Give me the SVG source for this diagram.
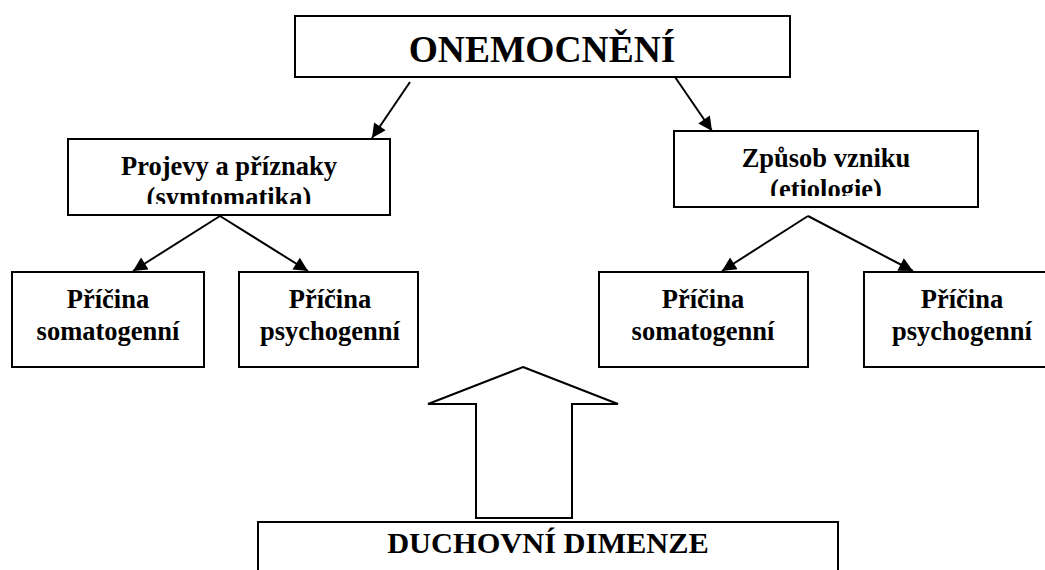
<svg xmlns="http://www.w3.org/2000/svg" width="1045" height="570" viewBox="0 0 1045 570">
<style>
.box{fill:#fff;stroke:#000;stroke-width:2}
.t{font-family:'Liberation Serif','DejaVu Serif',serif;font-weight:700;fill:#000;text-anchor:middle}
.s{font-size:26.5px}
.conn line{stroke:#000;stroke-width:2}
</style>
<defs>
<marker id="ah" viewBox="0 0 10 10" refX="10" refY="5" markerWidth="8" markerHeight="7" markerUnits="strokeWidth" orient="auto">
<path d="M0,0 L10,5 L0,10 z" fill="#000"/>
</marker>
<clipPath id="c1"><rect x="68" y="139" width="322" height="65"/></clipPath>
<clipPath id="c2"><rect x="674" y="131" width="304" height="65"/></clipPath>
</defs>
<rect width="1045" height="570" fill="#fff"/>
<g id="onemocneni">
<rect class="box" x="295" y="16" width="495" height="61"/>
<text class="t" x="542" y="62" font-size="37.5">ONEMOCNĚNÍ</text>
</g>
<g id="projevy">
<rect class="box" x="68" y="139" width="322" height="76"/>
<g clip-path="url(#c1)">
<text class="t s" x="229" y="175">Projevy a příznaky</text>
<text class="t s" x="229" y="206">(symtomatika)</text>
</g>
</g>
<g id="zpusob">
<rect class="box" x="674" y="131" width="304" height="76"/>
<g clip-path="url(#c2)">
<text class="t s" x="826" y="167">Způsob vzniku</text>
<text class="t s" x="826" y="198">(etiologie)</text>
</g>
</g>
<g id="l-somato">
<rect class="box" x="12" y="272" width="192" height="95"/>
<text class="t s" x="108" y="308">Příčina</text>
<text class="t s" x="108" y="340">somatogenní</text>
</g>
<g id="l-psycho">
<rect class="box" x="239" y="272" width="179" height="95"/>
<text class="t s" x="330" y="308">Příčina</text>
<text class="t s" x="330" y="340">psychogenní</text>
</g>
<g id="r-somato">
<rect class="box" x="599" y="272" width="209" height="95"/>
<text class="t s" x="703" y="308">Příčina</text>
<text class="t s" x="703" y="340">somatogenní</text>
</g>
<g id="r-psycho">
<rect class="box" x="864" y="272" width="200" height="95"/>
<text class="t s" x="962" y="308">Příčina</text>
<text class="t s" x="962" y="340">psychogenní</text>
</g>
<g id="duchovni">
<rect class="box" x="258" y="522" width="580" height="80"/>
<text class="t" x="548" y="553" font-size="30.4">DUCHOVNÍ DIMENZE</text>
</g>
<g id="block-arrow">
<polygon points="523,367 618,404 572,404 572,518 476,518 476,404 428,404" fill="#fff" stroke="#000" stroke-width="2" stroke-linejoin="miter"/>
</g>
<g class="conn" id="connectors">
<line x1="410" y1="82" x2="372" y2="138" marker-end="url(#ah)"/>
<line x1="675" y1="77" x2="712" y2="131" marker-end="url(#ah)"/>
<line x1="220" y1="216" x2="133" y2="271" marker-end="url(#ah)"/>
<line x1="220" y1="216" x2="308" y2="271" marker-end="url(#ah)"/>
<line x1="808" y1="216" x2="722" y2="271" marker-end="url(#ah)"/>
<line x1="808" y1="216" x2="913" y2="271" marker-end="url(#ah)"/>
</g>
</svg>
